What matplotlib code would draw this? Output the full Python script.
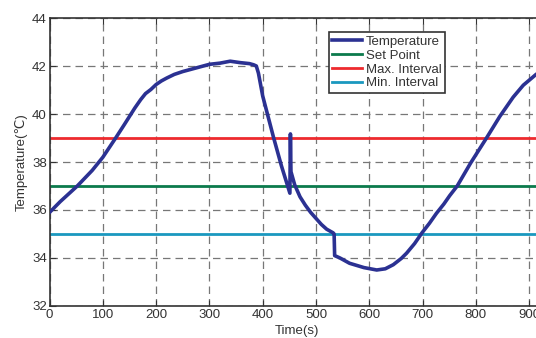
import matplotlib
matplotlib.use('Agg')
import matplotlib.pyplot as plt

plt.rcParams['font.family'] = ['Liberation Sans', 'DejaVu Sans']

# temperature trace (time in s, temp in C)
time_s = [0, 20, 52, 80, 100, 124, 140, 152, 160, 171, 180, 190, 200, 210, 220,
          234, 250, 265, 280, 300, 320, 339, 358, 375, 383, 388, 392, 400, 410,
          420, 435, 451, 452, 453, 460, 470, 480, 490, 500, 510, 520, 532, 534,
          535, 545, 563, 590, 614, 630, 645, 660, 670, 685, 699, 713, 726, 740,
          751, 765, 790, 820, 845, 870, 889, 913, 930]
temp_c = [35.9, 36.35, 37.0, 37.65, 38.2, 39.0, 39.55, 39.97, 40.25, 40.6, 40.85,
          41.02, 41.23, 41.38, 41.5, 41.65, 41.77, 41.86, 41.95, 42.07, 42.12,
          42.2, 42.14, 42.1, 42.05, 42.0, 41.7, 40.75, 39.9, 39.05, 37.85, 36.7,
          39.17, 37.6, 37.05, 36.55, 36.2, 35.9, 35.65, 35.4, 35.2, 35.05, 35.0,
          34.1, 34.0, 33.78, 33.6, 33.5, 33.55, 33.72, 33.98, 34.2, 34.6, 35.05,
          35.45, 35.86, 36.25, 36.6, 37.0, 37.95, 39.0, 39.9, 40.7, 41.2, 41.65,
          41.9]

set_point = 37
max_interval = 39
min_interval = 35

x_ticks = list(range(0, 1000, 100))
y_ticks = list(range(32, 45, 2))

fig = plt.figure(figsize=(5.36, 3.38), dpi=100)
ax = fig.add_axes([0.0925, 0.0947, 0.9245, 0.852])

ax.plot(time_s, temp_c, color='#2b3192', lw=2.6, label='Temperature', zorder=5)
ax.axhline(set_point, color='#0b7a4c', lw=2, label='Set Point')
ax.axhline(max_interval, color='#ee2a2e', lw=2, label='Max. Interval')
ax.axhline(min_interval, color='#1a98bf', lw=2, label='Min. Interval')

ax.set_xlim(0, 930)
ax.set_ylim(32, 44)
ax.set_xticks(x_ticks)
ax.set_yticks(y_ticks)
ax.tick_params(direction='in', top=True, right=True, labelsize=9.5,
               colors='#333333', length=4, pad=2)
ax.grid(True, ls=(0, (6, 4)), color='#777777', lw=0.9)
for s in ax.spines.values():
    s.set_color('#333333')
    s.set_linewidth(1.2)

ax.set_xlabel('Time(s)', fontsize=9.5, color='#333333', labelpad=3)
ax.set_ylabel('Temperature(\u2103)', fontsize=9.5, color='#333333', labelpad=3)

leg = ax.legend(loc='upper left', bbox_to_anchor=(0.563, 0.95), fontsize=9.5,
                frameon=True, fancybox=False, handlelength=2.3,
                handletextpad=0.3, borderpad=0.25, labelspacing=0.12,
                borderaxespad=0)
leg.get_frame().set_edgecolor('#333333')
leg.get_frame().set_linewidth(1.2)
leg.get_frame().set_alpha(1)
for t in leg.get_texts():
    t.set_color('#333333')

fig.savefig('out.png', dpi=100)
